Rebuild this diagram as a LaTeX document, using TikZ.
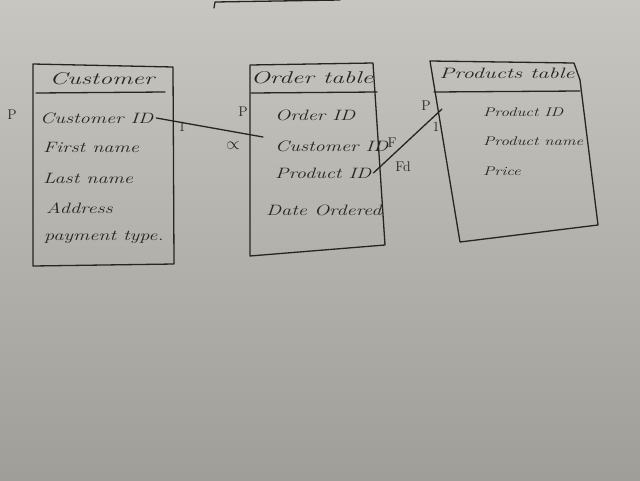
\documentclass[tikz,border=0pt]{standalone}
\usepackage{fontspec}
\newfontfamily\hand{Latin Modern Roman}[FakeStretch=1.35]
\newfontfamily\handwide{Latin Modern Roman}[FakeStretch=1.5]
\definecolor{paperTop}{RGB}{200,198,192}
\definecolor{paperBot}{RGB}{160,158,152}
\definecolor{ink}{RGB}{40,36,32}
\begin{document}
\begin{tikzpicture}[x=1pt,y=-1pt,
  ink line/.style={draw=ink,line width=1.3pt,line join=round,line cap=round},
  field/.style={anchor=west,text=ink,font=\hand\itshape\fontsize{15}{17}\selectfont,inner sep=0pt},
  small field/.style={field,font=\hand\itshape\fontsize{12.5}{15}\selectfont},
  head/.style={anchor=center,text=ink,font=\handwide\itshape\fontsize{17}{19}\selectfont,inner sep=0pt},
  keylabel/.style={anchor=center,text=ink,font=\fontsize{14}{16}\selectfont,inner sep=0pt}]
\useasboundingbox (0,0) rectangle (640,480);
\shade[top color=paperTop,bottom color=paperBot] (0,0) rectangle (640,480);
% top fragment
\draw[ink line] (214,8) -- (215,2) -- (340,0);
% Customer box
\draw[ink line] (33,64) -- (173,67) -- (174,264) -- (33,266) -- cycle;
\draw[ink line] (36,93) -- (165,92);
\node[head] (ch) at (102,79) {Customer};
\node[field] (c1) at (40,118) {Customer ID};
\node[field] (c2) at (43,147) {First name};
\node[field] (c3) at (43,178) {Last name};
\node[field] (c4) at (46,208) {Address};
\node[field] (c5) at (44,237) {payment type.};
\node[keylabel] (cp) at (12,115) {P};
\node[keylabel] (c1m) at (182,127) {1};
% Order table box
\draw[ink line] (250,65) -- (373,63) -- (385,245) -- (250,256) -- cycle;
\draw[ink line] (251,93) -- (377,92);
\node[head] (oh) at (312,78) {Order table};
\node[field] (o1) at (275,115) {Order ID};
\node[field] (o2) at (275,146) {Customer ID};
\node[field] (o3) at (275,173) {Product ID};
\node[field] (o4) at (266,210) {Date Ordered};
\node[keylabel] (op) at (243,112) {P};
\node[keylabel,font=\fontsize{18}{20}\selectfont] (oinf) at (233,146) {$\propto$};
\node[keylabel] (of) at (392,143) {F};
\node[keylabel] (ofd) at (403,167) {Fd};
% Products table box
\draw[ink line] (430,61) -- (574,63) -- (580,80) -- (598,225) -- (460,242) -- cycle;
\draw[ink line] (434,92) -- (580,91);
\node[head,font=\handwide\itshape\fontsize{15}{17}\selectfont] (ph) at (507,73) {Products table};
\node[small field] (p1) at (483,112) {Product ID};
\node[small field] (p2) at (483,141) {Product name};
\node[small field] (p3) at (483,171) {Price};
\node[keylabel] (pp) at (426,106) {P};
\node[keylabel] (p1m) at (436,127) {1};
% connectors
\coordinate (oLeft) at (263,137);
\coordinate (pLeft) at (442,109);
\draw[ink line] ([xshift=3pt]c1.east) -- (oLeft);
\draw[ink line] ([xshift=2pt]o3.east) -- (pLeft);
\end{tikzpicture}
\end{document}
